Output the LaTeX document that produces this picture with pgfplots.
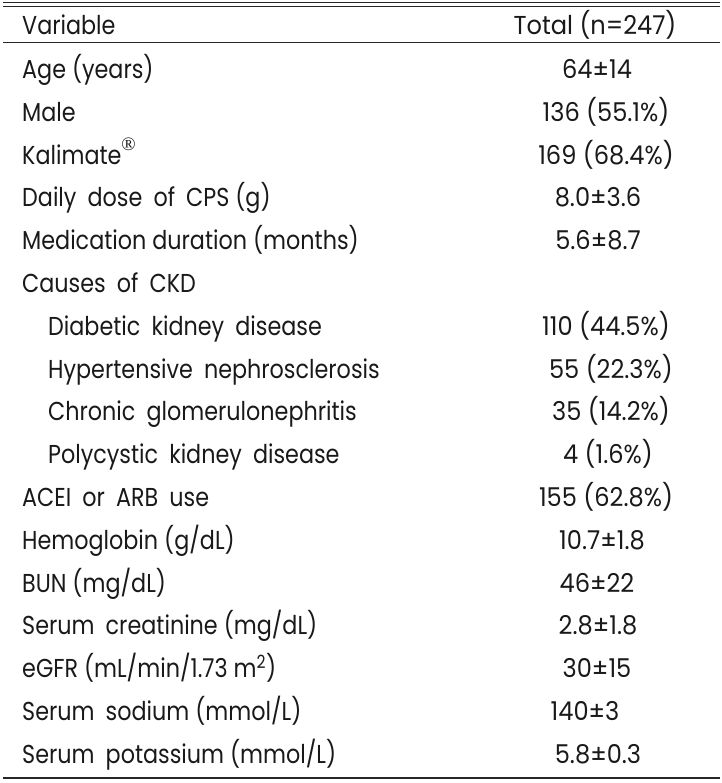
\documentclass[border=0pt]{standalone}
\usepackage{pgfplots}
\pgfplotsset{compat=1.18}
\usepackage{fontspec}
\setmainfont{Poppins}[FakeStretch=0.86]
\newfontfamily\valfont{Poppins}[FakeStretch=0.93]
\newfontfamily\regf{Liberation Serif}
\begin{document}
\begin{tikzpicture}
\begin{axis}[
  width=722bp, height=783bp, scale only axis,
  xmin=0, xmax=722, ymin=0, ymax=783, y dir=reverse,
  hide axis, clip=false,
]
\path (axis cs:0,0) rectangle (axis cs:722,783);
% rules
\draw[line width=1.3bp, black!85] (axis cs:3,2.8) -- (axis cs:720,2.8);
\draw[line width=1.3bp, black!85] (axis cs:3,6.4) -- (axis cs:720,6.4);
\draw[line width=1.5bp, black!85] (axis cs:3,42.7) -- (axis cs:720,42.7);
\draw[line width=1.5bp, black!85] (axis cs:3,778) -- (axis cs:720,778);
\tikzset{lab/.style={anchor=base west, inner sep=0pt, font=\fontsize{26}{30}\selectfont, text=black!90},
         val/.style={anchor=base, inner sep=0pt, font=\valfont\fontsize{26}{30}\selectfont, text=black!90}}
% header
\node[val] at (axis cs:22,34.5) [anchor=base west, font=\fontsize{26}{30}\selectfont] {Variable};
\node[val] at (axis cs:595,34.5) {Total (n=247)};
% rows: baseline = 78.5 + 42.8 i
\node[lab] at (axis cs:22,78.5)  {Age (years)};
\node[lab] at (axis cs:22,121.3) {Male};
\node[lab] at (axis cs:22,164.1) {Kalimate\raisebox{0.95ex}{\regf\fontsize{19}{19}\selectfont ®}};
\node[lab] at (axis cs:22,206.9) {Daily\hspace{0.2em} dose\hspace{0.2em} of\hspace{0.2em} CPS (g)};
\node[lab] at (axis cs:22,249.7) {Medication duration (months)};
\node[lab] at (axis cs:22,292.5) {Causes\hspace{0.2em} of\hspace{0.2em} CKD};
\node[lab] at (axis cs:48,335.3) {Diabetic\hspace{0.2em} kidney\hspace{0.2em} disease};
\node[lab] at (axis cs:48,378.1) {Hypertensive\hspace{0.2em} nephrosclerosis};
\node[lab] at (axis cs:48,420.9) {Chronic\hspace{0.2em} glomerulonephritis};
\node[lab] at (axis cs:48,463.7) {Polycystic\hspace{0.2em} kidney\hspace{0.2em} disease};
\node[lab] at (axis cs:22,506.5) {ACEI\hspace{0.2em} or\hspace{0.2em} ARB\hspace{0.2em} use};
\node[lab] at (axis cs:22,549.3) {Hemoglobin (g/dL)};
\node[lab] at (axis cs:22,592.1) {BUN (mg/dL)};
\node[lab] at (axis cs:22,634.9) {Serum\hspace{0.2em} creatinine (mg/dL)};
\node[lab] at (axis cs:22,677.7) {eGFR (mL/min/1.73 m\textsuperscript{2})};
\node[lab] at (axis cs:22,720.5) {Serum\hspace{0.2em} sodium (mmol/L)};
\node[lab] at (axis cs:22,763.3) {Serum\hspace{0.2em} potassium (mmol/L)};
% values
\node[val] at (axis cs:597,78.5)  {64±14};
\node[val] at (axis cs:606,121.3) {136 (55.1\%)};
\node[val] at (axis cs:606,164.1) {169 (68.4\%)};
\node[val] at (axis cs:598,206.9) {8.0±3.6};
\node[val] at (axis cs:598,249.7) {5.6±8.7};
\node[val] at (axis cs:606,335.3) {110 (44.5\%)};
\node[val] at (axis cs:611,378.1) {55 (22.3\%)};
\node[val] at (axis cs:611,420.9) {35 (14.2\%)};
\node[val] at (axis cs:608,463.7) {4 (1.6\%)};
\node[val] at (axis cs:606,506.5) {155 (62.8\%)};
\node[val] at (axis cs:602,549.3) {10.7±1.8};
\node[val] at (axis cs:597,592.1) {46±22};
\node[val] at (axis cs:598,634.9) {2.8±1.8};
\node[val] at (axis cs:597,677.7) {30±15};
\node[val] at (axis cs:585,720.5) {140±3};
\node[val] at (axis cs:598,763.3) {5.8±0.3};
\end{axis}
\end{tikzpicture}
\end{document}
